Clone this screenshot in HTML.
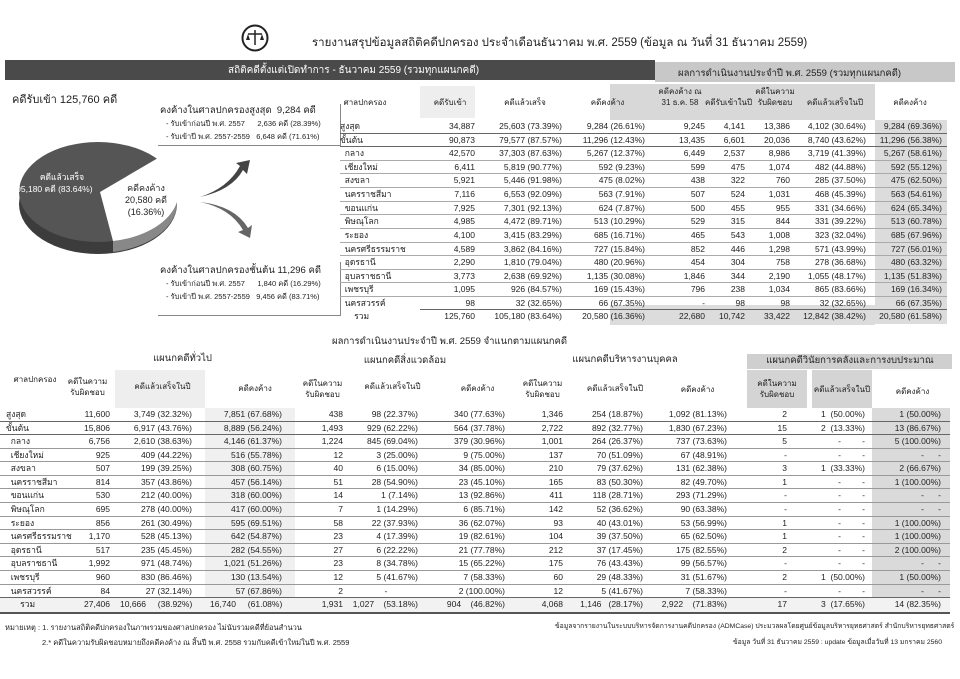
<!DOCTYPE html>
<html><head><meta charset="utf-8">
<style>
*{margin:0;padding:0;box-sizing:border-box}
body{width:960px;height:679px;background:#fff;position:relative;overflow:hidden;font-family:"Liberation Sans","DejaVu Sans",sans-serif;color:#222;font-size:8.5px}
.a{position:absolute;white-space:nowrap}
.r{position:absolute;left:0;width:960px;height:13px}
.r span{position:absolute;top:0;text-align:right;white-space:nowrap;line-height:13px}
.r span.n{text-align:left}
.ln{position:absolute;height:1px;background:#666}
.t .n{left:340px}
.t .c1{left:420px;width:55px}
.t .c2{left:480px;width:82px}
.t .c3{left:570px;width:75px}
.t .c4{left:655px;width:50px}
.t .c5{left:708px;width:37px}
.t .c6{left:745px;width:45px}
.t .c7{left:800px;width:66px}
.t .c8{left:872px;width:70px}
.b .n{left:6px}
.b .c1{left:60px;width:50px}
.b .c2{left:120px;width:72px}
.b .c3{left:210px;width:72px}
.b .c4{left:300px;width:43px}
.b .c5{left:350px;width:68px}
.b .c6{left:440px;width:65px}
.b .c7{left:520px;width:43px}
.b .c8{left:575px;width:68px}
.b .c9{left:660px;width:67px}
.b .c10{left:745px;width:42px}
.b .c11{left:795px;width:70px}
.b .c12{left:880px;width:61px}
.hd{position:absolute;text-align:center;font-size:8px;line-height:11px;white-space:nowrap}
</style></head><body>

<svg class="a" style="left:241px;top:24px" width="28" height="28"><circle cx="14" cy="14" r="12.5" fill="none" stroke="#222" stroke-width="2"/><line x1="14" y1="6" x2="14" y2="21" stroke="#222" stroke-width="1.5"/><line x1="7" y1="10" x2="21" y2="10" stroke="#222" stroke-width="1.5"/><path d="M5 16 L7 10 L9 16 Z M19 16 L21 10 L23 16Z" fill="#222"/></svg>
<div class="a" style="left:312px;top:34px;font-size:11.5px">รายงานสรุปข้อมูลสถิติคดีปกครอง ประจำเดือนธันวาคม พ.ศ. 2559 (ข้อมูล ณ วันที่ 31 ธันวาคม 2559)</div>

<div class="a" style="left:5px;top:60px;width:650px;height:20px;background:#4a4a4a"></div>
<div class="a" style="left:228px;top:63px;color:#fff;font-size:10px">สถิติคดีตั้งแต่เปิดทำการ - ธันวาคม 2559 (รวมทุกแผนกคดี)</div>
<div class="a" style="left:655px;top:62px;width:300px;height:20px;background:#c8c8c8"></div>
<div class="a" style="left:678px;top:66px;font-size:9.5px">ผลการดำเนินงานประจำปี พ.ศ. 2559 (รวมทุกแผนกคดี)</div>

<div class="a" style="left:12px;top:90px;font-size:11px">คดีรับเข้า 125,760 คดี</div>
<div class="a" style="left:160px;top:103px;font-size:9.5px">คงค้างในศาลปกครองสูงสุด &nbsp;9,284 คดี</div>
<div class="a" style="left:166px;top:118px;font-size:7.5px">- รับเข้าก่อนปี พ.ศ. 2557 &nbsp;&nbsp;&nbsp;&nbsp;&nbsp;2,636 คดี (28.39%)</div>
<div class="a" style="left:166px;top:131px;font-size:7.5px">- รับเข้าปี พ.ศ. 2557-2559 &nbsp;&nbsp;6,648 คดี (71.61%)</div>
<div class="ln" style="left:158px;top:145px;width:183px;background:#888"></div>
<div class="a" style="left:340px;top:104px;width:1px;height:42px;background:#888"></div>
<div class="a" style="left:160px;top:263px;font-size:9.5px">คงค้างในศาลปกครองชั้นต้น 11,296 คดี</div>
<div class="a" style="left:166px;top:278px;font-size:7.5px">- รับเข้าก่อนปี พ.ศ. 2557 &nbsp;&nbsp;&nbsp;&nbsp;&nbsp;1,840 คดี (16.29%)</div>
<div class="a" style="left:166px;top:291px;font-size:7.5px">- รับเข้าปี พ.ศ. 2557-2559 &nbsp;&nbsp;9,456 คดี (83.71%)</div>
<div class="ln" style="left:158px;top:315px;width:183px;background:#888"></div>
<div class="a" style="left:340px;top:262px;width:1px;height:54px;background:#888"></div>

<svg class="a" style="left:0;top:130px" width="260" height="140">
<ellipse cx="98" cy="74" rx="79" ry="50" fill="#3c3c3c"/>
<ellipse cx="98" cy="62" rx="79" ry="50" fill="#555"/>
<path d="M113 110 A79 50 0 0 0 177 62 L177 74 A79 50 0 0 1 113 122 Z" fill="#888"/>
<path d="M100 62 L158 28 A79 50 0 0 1 113 111 Z" fill="#fff"/>
<text x="62" y="50" fill="#fff" font-size="8.5" text-anchor="middle" font-family="Liberation Sans,sans-serif">คดีแล้วเสร็จ</text>
<text x="52" y="62" fill="#fff" font-size="8.5" text-anchor="middle" font-family="Liberation Sans,sans-serif">105,180 คดี (83.64%)</text>
<text x="146" y="61" fill="#222" font-size="9" text-anchor="middle" font-family="Liberation Sans,sans-serif">คดีคงค้าง</text>
<text x="146" y="73" fill="#222" font-size="9" text-anchor="middle" font-family="Liberation Sans,sans-serif">20,580 คดี</text>
<text x="146" y="85" fill="#222" font-size="9" text-anchor="middle" font-family="Liberation Sans,sans-serif">(16.36%)</text>
<path d="M200 67 Q228 58 240 36 L236 33 L250 30 L247 44 L243 40 Q232 60 200 67 Z" fill="#444"/>
<path d="M200 72 Q230 78 243 100 L238 102 L250 108 L252 95 L248 98 Q235 76 200 72 Z" fill="#666"/>
</svg>

<div class="a" style="left:420px;top:86px;width:55px;height:32px;background:#eee"></div>
<div class="a" style="left:610px;top:84px;width:265px;height:36px;background:#d8d8d8"></div>
<div class="a" style="left:875px;top:120px;width:72px;height:204px;background:#dcdcdc"></div>
<div class="a" style="left:610px;top:305px;width:265px;height:20px;background:#dcdcdc"></div>
<div class="hd" style="left:335px;top:97px;width:60px">ศาลปกครอง</div>
<div class="hd" style="left:425px;top:97px;width:50px">คดีรับเข้า</div>
<div class="hd" style="left:490px;top:97px;width:70px">คดีแล้วเสร็จ</div>
<div class="hd" style="left:570px;top:97px;width:75px">คดีคงค้าง</div>
<div class="hd" style="left:655px;top:86px;width:50px">คดีคงค้าง ณ<br>31 ธ.ค. 58</div>
<div class="hd" style="left:705px;top:97px;width:45px">คดีรับเข้าในปี</div>
<div class="hd" style="left:750px;top:86px;width:50px">คดีในความ<br>รับผิดชอบ</div>
<div class="hd" style="left:800px;top:97px;width:70px">คดีแล้วเสร็จในปี</div>
<div class="hd" style="left:875px;top:97px;width:70px">คดีคงค้าง</div>

<div class="t">
<div class="r" style="top:120px"><span class="n">สูงสุด</span><span class="c1">34,887</span><span class="c2">25,603 (73.39%)</span><span class="c3">9,284 (26.61%)</span><span class="c4">9,245</span><span class="c5">4,141</span><span class="c6">13,386</span><span class="c7">4,102 (30.64%)</span><span class="c8">9,284 (69.36%)</span></div>
<div class="r" style="top:134px"><span class="n">ขั้นต้น</span><span class="c1">90,873</span><span class="c2">79,577 (87.57%)</span><span class="c3">11,296 (12.43%)</span><span class="c4">13,435</span><span class="c5">6,601</span><span class="c6">20,036</span><span class="c7">8,740 (43.62%)</span><span class="c8">11,296 (56.38%)</span></div>
<div class="r" style="top:147px"><span class="n">&nbsp;&nbsp;กลาง</span><span class="c1">42,570</span><span class="c2">37,303 (87.63%)</span><span class="c3">5,267 (12.37%)</span><span class="c4">6,449</span><span class="c5">2,537</span><span class="c6">8,986</span><span class="c7">3,719 (41.39%)</span><span class="c8">5,267 (58.61%)</span></div>
<div class="r" style="top:161px"><span class="n">&nbsp;&nbsp;เชียงใหม่</span><span class="c1">6,411</span><span class="c2">5,819 (90.77%)</span><span class="c3">592 (9.23%)</span><span class="c4">599</span><span class="c5">475</span><span class="c6">1,074</span><span class="c7">482 (44.88%)</span><span class="c8">592 (55.12%)</span></div>
<div class="r" style="top:174px"><span class="n">&nbsp;&nbsp;สงขลา</span><span class="c1">5,921</span><span class="c2">5,446 (91.98%)</span><span class="c3">475 (8.02%)</span><span class="c4">438</span><span class="c5">322</span><span class="c6">760</span><span class="c7">285 (37.50%)</span><span class="c8">475 (62.50%)</span></div>
<div class="r" style="top:188px"><span class="n">&nbsp;&nbsp;นครราชสีมา</span><span class="c1">7,116</span><span class="c2">6,553 (92.09%)</span><span class="c3">563 (7.91%)</span><span class="c4">507</span><span class="c5">524</span><span class="c6">1,031</span><span class="c7">468 (45.39%)</span><span class="c8">563 (54.61%)</span></div>
<div class="r" style="top:202px"><span class="n">&nbsp;&nbsp;ขอนแก่น</span><span class="c1">7,925</span><span class="c2">7,301 (92.13%)</span><span class="c3">624 (7.87%)</span><span class="c4">500</span><span class="c5">455</span><span class="c6">955</span><span class="c7">331 (34.66%)</span><span class="c8">624 (65.34%)</span></div>
<div class="r" style="top:215px"><span class="n">&nbsp;&nbsp;พิษณุโลก</span><span class="c1">4,985</span><span class="c2">4,472 (89.71%)</span><span class="c3">513 (10.29%)</span><span class="c4">529</span><span class="c5">315</span><span class="c6">844</span><span class="c7">331 (39.22%)</span><span class="c8">513 (60.78%)</span></div>
<div class="r" style="top:229px"><span class="n">&nbsp;&nbsp;ระยอง</span><span class="c1">4,100</span><span class="c2">3,415 (83.29%)</span><span class="c3">685 (16.71%)</span><span class="c4">465</span><span class="c5">543</span><span class="c6">1,008</span><span class="c7">323 (32.04%)</span><span class="c8">685 (67.96%)</span></div>
<div class="r" style="top:243px"><span class="n">&nbsp;&nbsp;นครศรีธรรมราช</span><span class="c1">4,589</span><span class="c2">3,862 (84.16%)</span><span class="c3">727 (15.84%)</span><span class="c4">852</span><span class="c5">446</span><span class="c6">1,298</span><span class="c7">571 (43.99%)</span><span class="c8">727 (56.01%)</span></div>
<div class="r" style="top:256px"><span class="n">&nbsp;&nbsp;อุดรธานี</span><span class="c1">2,290</span><span class="c2">1,810 (79.04%)</span><span class="c3">480 (20.96%)</span><span class="c4">454</span><span class="c5">304</span><span class="c6">758</span><span class="c7">278 (36.68%)</span><span class="c8">480 (63.32%)</span></div>
<div class="r" style="top:270px"><span class="n">&nbsp;&nbsp;อุบลราชธานี</span><span class="c1">3,773</span><span class="c2">2,638 (69.92%)</span><span class="c3">1,135 (30.08%)</span><span class="c4">1,846</span><span class="c5">344</span><span class="c6">2,190</span><span class="c7">1,055 (48.17%)</span><span class="c8">1,135 (51.83%)</span></div>
<div class="r" style="top:283px"><span class="n">&nbsp;&nbsp;เพชรบุรี</span><span class="c1">1,095</span><span class="c2">926 (84.57%)</span><span class="c3">169 (15.43%)</span><span class="c4">796</span><span class="c5">238</span><span class="c6">1,034</span><span class="c7">865 (83.66%)</span><span class="c8">169 (16.34%)</span></div>
<div class="r" style="top:297px"><span class="n">&nbsp;&nbsp;นครสวรรค์</span><span class="c1">98</span><span class="c2">32 (32.65%)</span><span class="c3">66 (67.35%)</span><span class="c4">-</span><span class="c5">98</span><span class="c6">98</span><span class="c7">32 (32.65%)</span><span class="c8">66 (67.35%)</span></div>
<div class="r" style="top:310px"><span class="n">&nbsp;&nbsp;&nbsp;&nbsp;&nbsp;&nbsp;รวม</span><span class="c1">125,760</span><span class="c2">105,180 (83.64%)</span><span class="c3">20,580 (16.36%)</span><span class="c4">22,680</span><span class="c5">10,742</span><span class="c6">33,422</span><span class="c7">12,842 (38.42%)</span><span class="c8">20,580 (61.58%)</span></div>
</div>
<div class="ln" style="left:340px;top:133px;width:607px"></div>
<div class="ln" style="left:340px;top:146px;width:607px"></div>
<div class="ln" style="left:340px;top:160px;width:607px;background:#aaa"></div>
<div class="ln" style="left:340px;top:173px;width:607px;background:#aaa"></div>
<div class="ln" style="left:340px;top:187px;width:607px;background:#aaa"></div>
<div class="ln" style="left:340px;top:201px;width:607px;background:#aaa"></div>
<div class="ln" style="left:340px;top:214px;width:607px;background:#aaa"></div>
<div class="ln" style="left:340px;top:228px;width:607px;background:#aaa"></div>
<div class="ln" style="left:340px;top:242px;width:607px;background:#aaa"></div>
<div class="ln" style="left:340px;top:255px;width:607px;background:#aaa"></div>
<div class="ln" style="left:340px;top:269px;width:607px;background:#aaa"></div>
<div class="ln" style="left:340px;top:282px;width:607px;background:#aaa"></div>
<div class="ln" style="left:340px;top:296px;width:607px;background:#aaa"></div>
<div class="ln" style="left:420px;top:309px;width:527px"></div>

<div class="a" style="left:332px;top:334px;font-size:9.5px">ผลการดำเนินงานประจำปี พ.ศ. 2559 จำแนกตามแผนกคดี</div>
<div class="a" style="left:747px;top:354px;width:205px;height:15px;background:#cfcfcf"></div>
<div class="a" style="left:747px;top:370px;width:60px;height:38px;background:#d4d4d4"></div>
<div class="a" style="left:812px;top:370px;width:60px;height:38px;background:#d4d4d4"></div>
<div class="a" style="left:872px;top:408px;width:78px;height:190px;background:#dadada"></div>
<div class="a" style="left:747px;top:597px;width:125px;height:15px;background:#d4d4d4"></div>
<div class="a" style="left:115px;top:370px;width:90px;height:38px;background:#eee"></div>
<div class="a" style="left:205px;top:408px;width:90px;height:190px;background:#f0f0f0"></div>
<div class="a" style="left:0px;top:597px;width:950px;height:15px;background:#f2f2f2"></div>
<div class="hd" style="left:100px;top:353px;width:165px;font-size:9.5px">แผนกคดีทั่วไป</div>
<div class="hd" style="left:320px;top:355px;width:170px;font-size:9.5px">แผนกคดีสิ่งแวดล้อม</div>
<div class="hd" style="left:545px;top:354px;width:160px;font-size:9.5px">แผนกคดีบริหารงานบุคคล</div>
<div class="hd" style="left:750px;top:355px;width:200px;font-size:9.5px">แผนกคดีวินัยการคลังและการงบประมาณ</div>
<div class="hd" style="left:5px;top:374px;width:60px">ศาลปกครอง</div>
<div class="hd" style="left:65px;top:376px;width:45px">คดีในความ<br>รับผิดชอบ</div>
<div class="hd" style="left:120px;top:381px;width:85px">คดีแล้วเสร็จในปี</div>
<div class="hd" style="left:215px;top:383px;width:80px">คดีคงค้าง</div>
<div class="hd" style="left:300px;top:378px;width:45px">คดีในความ<br>รับผิดชอบ</div>
<div class="hd" style="left:350px;top:381px;width:85px">คดีแล้วเสร็จในปี</div>
<div class="hd" style="left:440px;top:383px;width:75px">คดีคงค้าง</div>
<div class="hd" style="left:520px;top:378px;width:45px">คดีในความ<br>รับผิดชอบ</div>
<div class="hd" style="left:575px;top:383px;width:80px">คดีแล้วเสร็จในปี</div>
<div class="hd" style="left:660px;top:384px;width:75px">คดีคงค้าง</div>
<div class="hd" style="left:747px;top:378px;width:60px">คดีในความ<br>รับผิดชอบ</div>
<div class="hd" style="left:812px;top:384px;width:60px">คดีแล้วเสร็จในปี</div>
<div class="hd" style="left:875px;top:386px;width:75px">คดีคงค้าง</div>

<div class="b">
<div class="r" style="top:408px"><span class="n">สูงสุด</span><span class="c1">11,600</span><span class="c2">3,749 (32.32%)</span><span class="c3">7,851 (67.68%)</span><span class="c4">438</span><span class="c5">98 (22.37%)</span><span class="c6">340 (77.63%)</span><span class="c7">1,346</span><span class="c8">254 (18.87%)</span><span class="c9">1,092 (81.13%)</span><span class="c10">2</span><span class="c11">1 &nbsp;(50.00%)</span><span class="c12">1 (50.00%)</span></div>
<div class="r" style="top:422px"><span class="n">ขั้นต้น</span><span class="c1">15,806</span><span class="c2">6,917 (43.76%)</span><span class="c3">8,889 (56.24%)</span><span class="c4">1,493</span><span class="c5">929 (62.22%)</span><span class="c6">564 (37.78%)</span><span class="c7">2,722</span><span class="c8">892 (32.77%)</span><span class="c9">1,830 (67.23%)</span><span class="c10">15</span><span class="c11">2 &nbsp;(13.33%)</span><span class="c12">13 (86.67%)</span></div>
<div class="r" style="top:435px"><span class="n">&nbsp;&nbsp;กลาง</span><span class="c1">6,756</span><span class="c2">2,610 (38.63%)</span><span class="c3">4,146 (61.37%)</span><span class="c4">1,224</span><span class="c5">845 (69.04%)</span><span class="c6">379 (30.96%)</span><span class="c7">1,001</span><span class="c8">264 (26.37%)</span><span class="c9">737 (73.63%)</span><span class="c10">5</span><span class="c11">- &nbsp;&nbsp;&nbsp;&nbsp;&nbsp;&nbsp;&nbsp;&nbsp;-</span><span class="c12">5 (100.00%)</span></div>
<div class="r" style="top:449px"><span class="n">&nbsp;&nbsp;เชียงใหม่</span><span class="c1">925</span><span class="c2">409 (44.22%)</span><span class="c3">516 (55.78%)</span><span class="c4">12</span><span class="c5">3 (25.00%)</span><span class="c6">9 (75.00%)</span><span class="c7">137</span><span class="c8">70 (51.09%)</span><span class="c9">67 (48.91%)</span><span class="c10">-</span><span class="c11">- &nbsp;&nbsp;&nbsp;&nbsp;&nbsp;&nbsp;&nbsp;&nbsp;-</span><span class="c12">- &nbsp;&nbsp;&nbsp;&nbsp;&nbsp;-</span></div>
<div class="r" style="top:462px"><span class="n">&nbsp;&nbsp;สงขลา</span><span class="c1">507</span><span class="c2">199 (39.25%)</span><span class="c3">308 (60.75%)</span><span class="c4">40</span><span class="c5">6 (15.00%)</span><span class="c6">34 (85.00%)</span><span class="c7">210</span><span class="c8">79 (37.62%)</span><span class="c9">131 (62.38%)</span><span class="c10">3</span><span class="c11">1 &nbsp;(33.33%)</span><span class="c12">2 (66.67%)</span></div>
<div class="r" style="top:476px"><span class="n">&nbsp;&nbsp;นครราชสีมา</span><span class="c1">814</span><span class="c2">357 (43.86%)</span><span class="c3">457 (56.14%)</span><span class="c4">51</span><span class="c5">28 (54.90%)</span><span class="c6">23 (45.10%)</span><span class="c7">165</span><span class="c8">83 (50.30%)</span><span class="c9">82 (49.70%)</span><span class="c10">1</span><span class="c11">- &nbsp;&nbsp;&nbsp;&nbsp;&nbsp;&nbsp;&nbsp;&nbsp;-</span><span class="c12">1 (100.00%)</span></div>
<div class="r" style="top:489px"><span class="n">&nbsp;&nbsp;ขอนแก่น</span><span class="c1">530</span><span class="c2">212 (40.00%)</span><span class="c3">318 (60.00%)</span><span class="c4">14</span><span class="c5">1 (7.14%)</span><span class="c6">13 (92.86%)</span><span class="c7">411</span><span class="c8">118 (28.71%)</span><span class="c9">293 (71.29%)</span><span class="c10">-</span><span class="c11">- &nbsp;&nbsp;&nbsp;&nbsp;&nbsp;&nbsp;&nbsp;&nbsp;-</span><span class="c12">- &nbsp;&nbsp;&nbsp;&nbsp;&nbsp;-</span></div>
<div class="r" style="top:503px"><span class="n">&nbsp;&nbsp;พิษณุโลก</span><span class="c1">695</span><span class="c2">278 (40.00%)</span><span class="c3">417 (60.00%)</span><span class="c4">7</span><span class="c5">1 (14.29%)</span><span class="c6">6 (85.71%)</span><span class="c7">142</span><span class="c8">52 (36.62%)</span><span class="c9">90 (63.38%)</span><span class="c10">-</span><span class="c11">- &nbsp;&nbsp;&nbsp;&nbsp;&nbsp;&nbsp;&nbsp;&nbsp;-</span><span class="c12">- &nbsp;&nbsp;&nbsp;&nbsp;&nbsp;-</span></div>
<div class="r" style="top:517px"><span class="n">&nbsp;&nbsp;ระยอง</span><span class="c1">856</span><span class="c2">261 (30.49%)</span><span class="c3">595 (69.51%)</span><span class="c4">58</span><span class="c5">22 (37.93%)</span><span class="c6">36 (62.07%)</span><span class="c7">93</span><span class="c8">40 (43.01%)</span><span class="c9">53 (56.99%)</span><span class="c10">1</span><span class="c11">- &nbsp;&nbsp;&nbsp;&nbsp;&nbsp;&nbsp;&nbsp;&nbsp;-</span><span class="c12">1 (100.00%)</span></div>
<div class="r" style="top:530px"><span class="n">&nbsp;&nbsp;นครศรีธรรมราช</span><span class="c1">1,170</span><span class="c2">528 (45.13%)</span><span class="c3">642 (54.87%)</span><span class="c4">23</span><span class="c5">4 (17.39%)</span><span class="c6">19 (82.61%)</span><span class="c7">104</span><span class="c8">39 (37.50%)</span><span class="c9">65 (62.50%)</span><span class="c10">1</span><span class="c11">- &nbsp;&nbsp;&nbsp;&nbsp;&nbsp;&nbsp;&nbsp;&nbsp;-</span><span class="c12">1 (100.00%)</span></div>
<div class="r" style="top:544px"><span class="n">&nbsp;&nbsp;อุดรธานี</span><span class="c1">517</span><span class="c2">235 (45.45%)</span><span class="c3">282 (54.55%)</span><span class="c4">27</span><span class="c5">6 (22.22%)</span><span class="c6">21 (77.78%)</span><span class="c7">212</span><span class="c8">37 (17.45%)</span><span class="c9">175 (82.55%)</span><span class="c10">2</span><span class="c11">- &nbsp;&nbsp;&nbsp;&nbsp;&nbsp;&nbsp;&nbsp;&nbsp;-</span><span class="c12">2 (100.00%)</span></div>
<div class="r" style="top:557px"><span class="n">&nbsp;&nbsp;อุบลราชธานี</span><span class="c1">1,992</span><span class="c2">971 (48.74%)</span><span class="c3">1,021 (51.26%)</span><span class="c4">23</span><span class="c5">8 (34.78%)</span><span class="c6">15 (65.22%)</span><span class="c7">175</span><span class="c8">76 (43.43%)</span><span class="c9">99 (56.57%)</span><span class="c10">-</span><span class="c11">- &nbsp;&nbsp;&nbsp;&nbsp;&nbsp;&nbsp;&nbsp;&nbsp;-</span><span class="c12">- &nbsp;&nbsp;&nbsp;&nbsp;&nbsp;-</span></div>
<div class="r" style="top:571px"><span class="n">&nbsp;&nbsp;เพชรบุรี</span><span class="c1">960</span><span class="c2">830 (86.46%)</span><span class="c3">130 (13.54%)</span><span class="c4">12</span><span class="c5">5 (41.67%)</span><span class="c6">7 (58.33%)</span><span class="c7">60</span><span class="c8">29 (48.33%)</span><span class="c9">31 (51.67%)</span><span class="c10">2</span><span class="c11">1 &nbsp;(50.00%)</span><span class="c12">1 (50.00%)</span></div>
<div class="r" style="top:585px"><span class="n">&nbsp;&nbsp;นครสวรรค์</span><span class="c1">84</span><span class="c2">27 (32.14%)</span><span class="c3">57 (67.86%)</span><span class="c4">2</span><span class="c5">- &nbsp;&nbsp;&nbsp;&nbsp;&nbsp;&nbsp;&nbsp;&nbsp;&nbsp;&nbsp;&nbsp;&nbsp;</span><span class="c6">2 (100.00%)</span><span class="c7">12</span><span class="c8">5 (41.67%)</span><span class="c9">7 (58.33%)</span><span class="c10">-</span><span class="c11">- &nbsp;&nbsp;&nbsp;&nbsp;&nbsp;&nbsp;&nbsp;&nbsp;-</span><span class="c12">- &nbsp;&nbsp;&nbsp;&nbsp;&nbsp;-</span></div>
<div class="r" style="top:598px"><span class="n">&nbsp;&nbsp;&nbsp;&nbsp;&nbsp;&nbsp;รวม</span><span class="c1">27,406</span><span class="c2">10,666 &nbsp;&nbsp;&nbsp;&nbsp;(38.92%)</span><span class="c3">16,740 &nbsp;&nbsp;&nbsp;&nbsp;(61.08%)</span><span class="c4">1,931</span><span class="c5">1,027 &nbsp;&nbsp;&nbsp;(53.18%)</span><span class="c6">904 &nbsp;&nbsp;&nbsp;(46.82%)</span><span class="c7">4,068</span><span class="c8">1,146 &nbsp;&nbsp;(28.17%)</span><span class="c9">2,922 &nbsp;&nbsp;&nbsp;(71.83%)</span><span class="c10">17</span><span class="c11">3 &nbsp;(17.65%)</span><span class="c12">14 (82.35%)</span></div>
</div>
<div class="ln" style="left:0;top:421px;width:950px"></div>
<div class="ln" style="left:0;top:434px;width:950px"></div>
<div class="ln" style="left:0;top:448px;width:950px;background:#999"></div>
<div class="ln" style="left:0;top:461px;width:950px;background:#999"></div>
<div class="ln" style="left:0;top:475px;width:950px;background:#999"></div>
<div class="ln" style="left:0;top:488px;width:950px;background:#999"></div>
<div class="ln" style="left:0;top:502px;width:950px;background:#999"></div>
<div class="ln" style="left:0;top:516px;width:950px;background:#999"></div>
<div class="ln" style="left:0;top:529px;width:950px;background:#999"></div>
<div class="ln" style="left:0;top:543px;width:950px;background:#999"></div>
<div class="ln" style="left:0;top:556px;width:950px;background:#999"></div>
<div class="ln" style="left:0;top:570px;width:950px;background:#999"></div>
<div class="ln" style="left:0;top:584px;width:950px;background:#999"></div>
<div class="ln" style="left:0;top:597px;width:950px"></div>
<div class="ln" style="left:0;top:612px;width:950px;height:2px;background:#555"></div>

<div class="a" style="left:5px;top:622px;font-size:7.5px">หมายเหตุ : 1. รายงานสถิติคดีปกครองในภาพรวมของศาลปกครอง ไม่นับรวมคดีที่ย้อนสำนวน</div>
<div class="a" style="left:42px;top:637px;font-size:7.5px">2.* คดีในความรับผิดชอบหมายถึงคดีคงค้าง ณ สิ้นปี พ.ศ. 2558 รวมกับคดีเข้าใหม่ในปี พ.ศ. 2559</div>
<div class="a" style="left:555px;top:620px;font-size:6.8px">ข้อมูลจากรายงานในระบบบริหารจัดการงานคดีปกครอง (ADMCase) ประมวลผลโดยศูนย์ข้อมูลบริหารยุทธศาสตร์ สำนักบริหารยุทธศาสตร์</div>
<div class="a" style="left:733px;top:636px;font-size:6.8px">ข้อมูล วันที่ 31 ธันวาคม 2559 : update ข้อมูลเมื่อวันที่ 13 มกราคม 2560</div>
</body></html>
